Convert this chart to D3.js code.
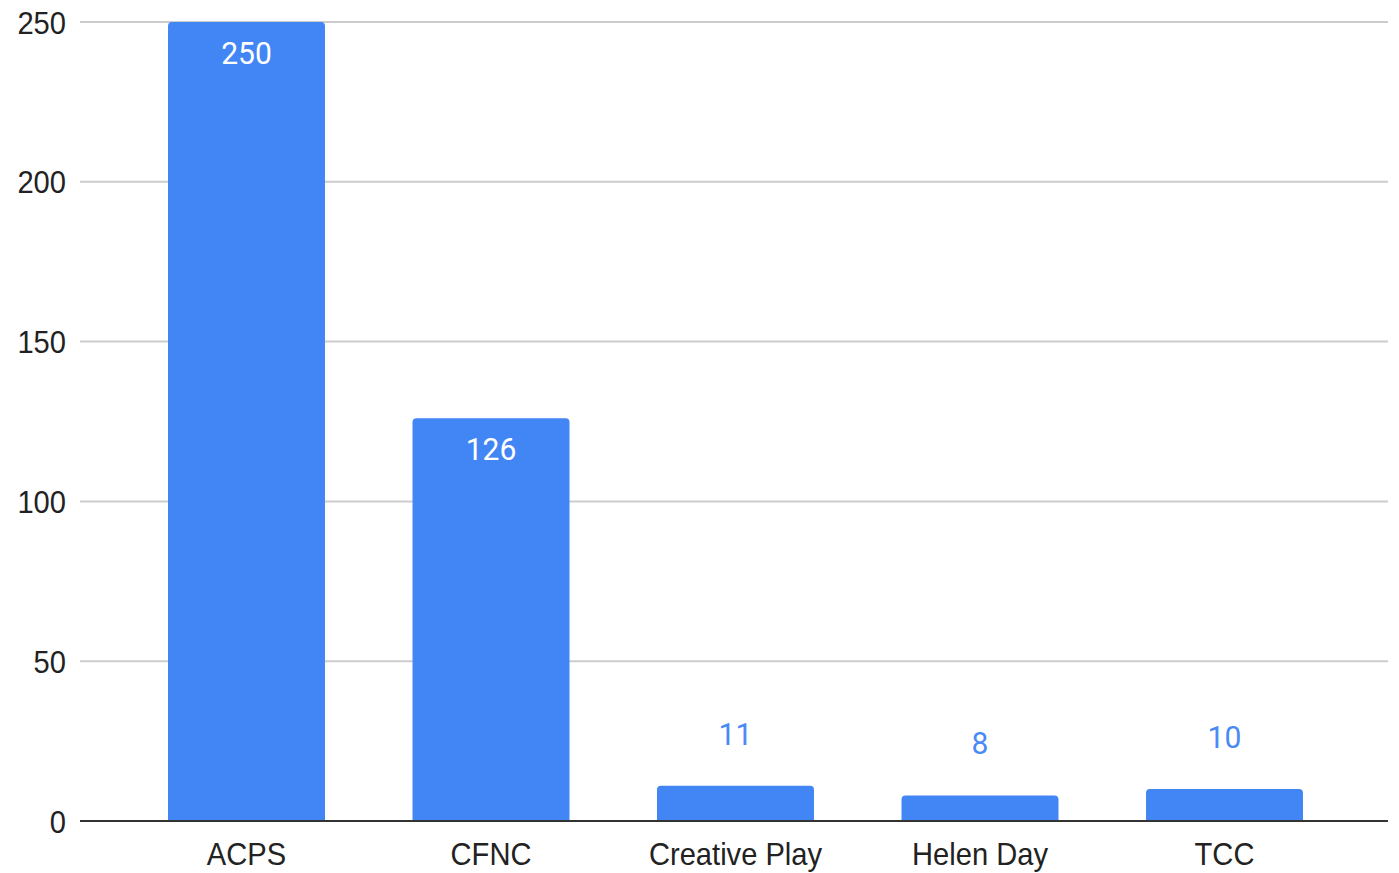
<!DOCTYPE html>
<html>
<head>
<meta charset="utf-8">
<script src="https://cdn.jsdelivr.net/npm/d3@7"></script>
<style>
  body { margin: 0; background: #fff; }
  text { font-family: "Liberation Sans", Arial, sans-serif; }
</style>
</head>
<body>
<div id="chart"></div>
<script>
// chart data
const categories = ["ACPS", "CFNC", "Creative Play", "Helen Day", "TCC"];
const values = [250, 126, 11, 8, 10];
const yTicks = [0, 50, 100, 150, 200, 250];

const W = 1399, H = 873;
const plot = {left: 80, right: 1388, top: 22, bottom: 821};
const barColor = "#4285f4";
// text in the reference is a bit narrow
const squishAxis = 0.91;
const squishValue = 0.97;

const svg = d3.select("#chart").append("svg")
  .attr("width", W)
  .attr("height", H);

const x = d3.scaleBand()
  .domain(categories)
  .range([plot.left, 1391])
  .paddingInner(0.358)
  .paddingOuter(0.36);

const y = d3.scaleLinear()
  .domain([0, 250])
  .range([plot.bottom, plot.top]);

// grid lines
svg.append("g")
  .selectAll("line")
  .data(yTicks.filter(d => d !== 0))
  .enter().append("line")
  .attr("x1", plot.left)
  .attr("x2", plot.right)
  .attr("y1", d => y(d))
  .attr("y2", d => y(d))
  .attr("stroke", "#cccccc")
  .attr("stroke-width", 2);

// y tick labels
svg.append("g")
  .selectAll("text")
  .data(yTicks)
  .enter().append("text")
  .attr("transform", d => `translate(66,${y(d)}) scale(${squishAxis},1)`)
  .attr("dy", "0.36em")
  .attr("text-anchor", "end")
  .style("font-size", "32px")
  .style("fill", "#222")
  .text(d => d);

// bars with slightly rounded tops
const r = 4;
function barPath(d, i) {
  const x0 = x(categories[i]), w = x.bandwidth();
  const top = y(d), bot = y(0);
  return `M${x0},${bot}V${top + r}Q${x0},${top} ${x0 + r},${top}` +
    `H${x0 + w - r}Q${x0 + w},${top} ${x0 + w},${top + r}V${bot}Z`;
}

svg.append("g")
  .selectAll("path")
  .data(values)
  .enter().append("path")
  .attr("d", barPath)
  .attr("fill", barColor);

// value labels: inside for tall bars, above for short ones
svg.append("g")
  .selectAll("text")
  .data(values)
  .enter().append("text")
  .attr("transform", (d, i) => {
    const cx = x(categories[i]) + x.bandwidth() / 2;
    const by = d > 50 ? y(d) + 42 : y(d) - 41;
    return `translate(${cx},${by}) scale(${squishValue},1)`;
  })
  .attr("text-anchor", "middle")
  .style("font-family", "Roboto, sans-serif")
  .style("font-size", "31px")
  .style("fill", d => d > 50 ? "#ffffff" : "#4a8af4")
  .text(d => d);

// baseline
svg.append("line")
  .attr("x1", plot.left)
  .attr("x2", plot.right)
  .attr("y1", y(0))
  .attr("y2", y(0))
  .attr("stroke", "#333")
  .attr("stroke-width", 2);

// category labels
svg.append("g")
  .selectAll("text")
  .data(categories)
  .enter().append("text")
  .attr("transform", d => `translate(${x(d) + x.bandwidth() / 2},865) scale(${squishAxis},1)`)
  .attr("text-anchor", "middle")
  .style("font-size", "32px")
  .style("fill", "#222")
  .text(d => d);
</script>
</body>
</html>
